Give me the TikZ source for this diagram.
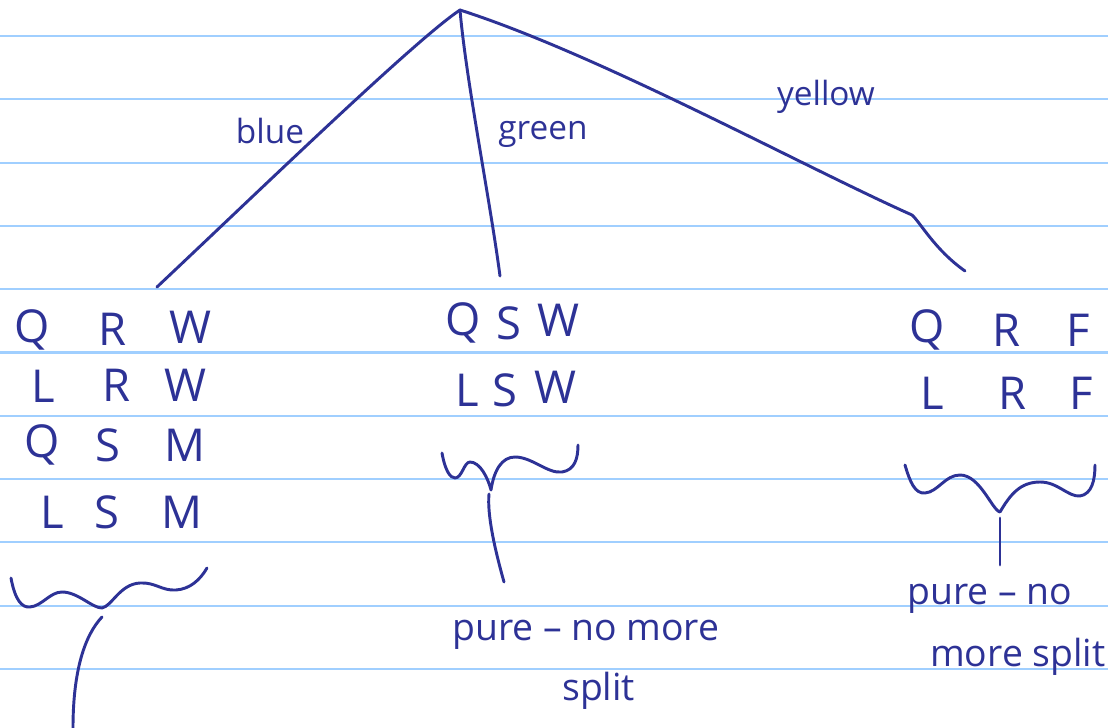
\documentclass[tikz,border=0pt]{standalone}
\usepackage{fontspec}
\setmainfont{Open Sans}
\definecolor{ink}{RGB}{45,50,150}
\definecolor{ruleblue}{RGB}{160,207,255}
\begin{document}
\begin{tikzpicture}[x=0.75pt,y=-0.75pt,
  pen/.style={draw=ink, line width=2.2pt, line cap=round, line join=round},
  ruled/.style={draw=ruleblue, line width=1.6pt},
  letter/.style={text=ink, inner sep=0pt, font=\fontsize{34}{36}\selectfont},
  edgelabel/.style={text=ink, inner sep=0pt, font=\fontsize{25}{28}\selectfont},
  note/.style={text=ink, inner sep=0pt, anchor=base west, font=\fontsize{28}{30}\selectfont}]
\useasboundingbox (0,0) rectangle (1108,728);
\fill[white] (0,0) rectangle (1108,728);
% ruled paper
\foreach \k in {0,...,10} {
  \draw[ruled] (0,{36+63.3*\k}) -- (1108,{36+63.3*\k});
}
% tree
\coordinate (root) at (460,10);
\coordinate (cb) at (157,287);
\coordinate (cg) at (500,276);
\coordinate (cy) at (965,271);
\draw[pen] (root) .. controls (415,40) and (260,190) .. (cb);
\draw[pen] (root) .. controls (466,80) and (490,200) .. (cg);
\draw[pen] (root) .. controls (600,55) and (800,165) .. (912,215) .. controls (920,222) and (935,250) .. (cy);
\node[edgelabel] (lb) at (270,131) {blue};
\node[edgelabel] (lg) at (543,134) {green};
\node[edgelabel] (ly) at (826,97) {yellow};
% left group
\node[letter] (a11) at (32,330) {Q};
\node[letter] (a12) at (113,329) {R};
\node[letter] (a13) at (190,327) {W};
\node[letter] (a21) at (43,386) {L};
\node[letter] (a22) at (117,385) {R};
\node[letter] (a23) at (185,385) {W};
\node[letter] (a31) at (42,445) {Q};
\node[letter] (a32) at (108,445) {S};
\node[letter] (a33) at (185,445) {M};
\node[letter] (a41) at (52,512) {L};
\node[letter] (a42) at (107,512) {S};
\node[letter] (a43) at (182,512) {M};
% middle group
\node[letter] (b11) at (463,323) {Q};
\node[letter] (b12) at (509,323) {S};
\node[letter] (b13) at (558,320) {W};
\node[letter] (b21) at (467,390) {L};
\node[letter] (b22) at (505,390) {S};
\node[letter] (b23) at (555,387) {W};
% right group
\node[letter] (c11) at (927,330) {Q};
\node[letter] (c12) at (1007,330) {R};
\node[letter] (c13) at (1078,330) {F};
\node[letter] (c21) at (932,393) {L};
\node[letter] (c22) at (1013,393) {R};
\node[letter] (c23) at (1081,393) {F};
% left brace
\coordinate (lcusp) at (102,608);
\draw[pen] (11,578) .. controls (15,600) and (22,608) .. (30,607)
  .. controls (42,606) and (50,592) .. (62,592)
  .. controls (78,592) and (92,608) .. (lcusp)
  .. controls (112,606) and (120,584) .. (140,583)
  .. controls (155,582) and (162,591) .. (176,590)
  .. controls (190,589) and (200,580) .. (207,568);
\coordinate (lend) at (73,728);
\draw[pen] (102,617) .. controls (85,635) and (73,670) .. (lend);
% middle brace
\coordinate (mcusp) at (491,490);
\draw[pen] (442,453) .. controls (445,470) and (450,478) .. (455,478)
  .. controls (462,478) and (464,462) .. (470,462)
  .. controls (480,462) and (488,478) .. (mcusp)
  .. controls (494,470) and (502,457) .. (515,457)
  .. controls (532,457) and (548,474) .. (562,472)
  .. controls (575,470) and (578,458) .. (578,445);
\coordinate (mend) at (504,582);
\draw[pen] (489,494) .. controls (487,515) and (495,550) .. (mend);
% right brace
\coordinate (rcusp) at (1000,512);
\draw[pen] (905,465) .. controls (910,482) and (915,494) .. (925,493)
  .. controls (938,492) and (945,475) .. (960,475)
  .. controls (980,475) and (992,510) .. (rcusp)
  .. controls (1010,495) and (1020,482) .. (1040,482)
  .. controls (1058,482) and (1068,497) .. (1080,496)
  .. controls (1092,494) and (1095,480) .. (1095,465);
\coordinate (rend) at (1000,565);
\draw[pen] (1000,518) -- (rend);
% notes
\node[note] (m1) at (452,640) {pure – no more};
\node[note] (m2) at (562,700) {split};
\node[note] (r1) at (907,604) {pure – no};
\node[note] (r2) at (930,666) {more split};
\end{tikzpicture}
\end{document}
